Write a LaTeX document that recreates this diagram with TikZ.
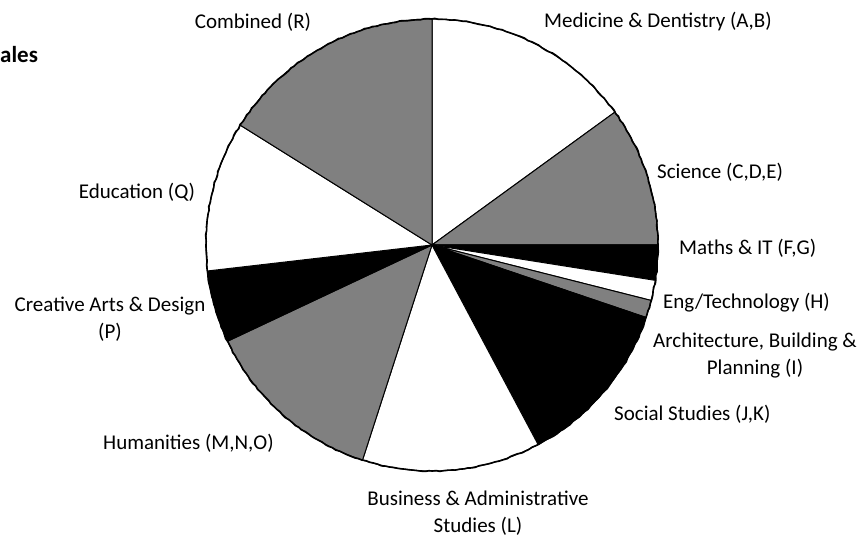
\documentclass[tikz,border=0pt]{standalone}
\usepackage{fontspec}
\setmainfont{Carlito}
\usetikzlibrary{decorations.pathmorphing}

\begin{document}
\begin{tikzpicture}[x=1pt,y=1pt,
  lbl/.style={font=\fontsize{21}{27}\selectfont, align=center, inner sep=0pt},
  slice/.style={draw=black, line width=1pt, line join=round},
  rim/.style={line width=1.6pt, decorate,
    decoration={random steps, segment length=4pt, amplitude=0.6pt}}]
\useasboundingbox (0,0) rectangle (860,539);
\pgfmathsetseed{7}
\coordinate (o) at (432,294);
\def\rad{226pt}
% wedges, clockwise from the top
\foreach \a/\b/\c in {36/90/white, 0/36/gray, -9/0/black, -14.2/-9/white,
  -18.7/-14.2/gray, -62/-18.7/black, -107.9/-62/white, -154.8/-107.9/gray,
  -173.4/-154.8/black, -212/-173.4/white, -270/-212/gray}
  \filldraw[slice, fill=\c] (o) -- ++(\a:\rad) arc (\a:\b:\rad) -- cycle;
\draw[rim] (o) circle (\rad);
% labels
\node[lbl, font=\fontsize{23}{27}\selectfont\bfseries, anchor=west] (ttl) at (0,484) {ales};
\node[lbl] (comb) at (253,517) {Combined (R)};
\node[lbl] (med) at (658,517) {Medicine \& Dentistry (A,B)};
\node[lbl, anchor=west] (sci) at (657,367) {Science (C,D,E)};
\node[lbl] (edu) at (137,347) {Education (Q)};
\node[lbl, anchor=west] (math) at (679,291) {Maths \& IT (F,G)};
\node[lbl, anchor=west] (eng) at (663,236) {Eng/Technology (H)};
\node[lbl] (arch) at (755,183) {Architecture, Building \&\\Planning (I)};
\node[lbl, anchor=west] (soc) at (614,125) {Social Studies (J,K)};
\node[lbl, anchor=west] (hum) at (103,96) {Humanities (M,N,O)};
\node[lbl] (art) at (110,220) {Creative Arts \& Design\\(P)};
\node[lbl] (bus) at (478,26) {Business \& Administrative\\Studies (L)};
\end{tikzpicture}
\end{document}
